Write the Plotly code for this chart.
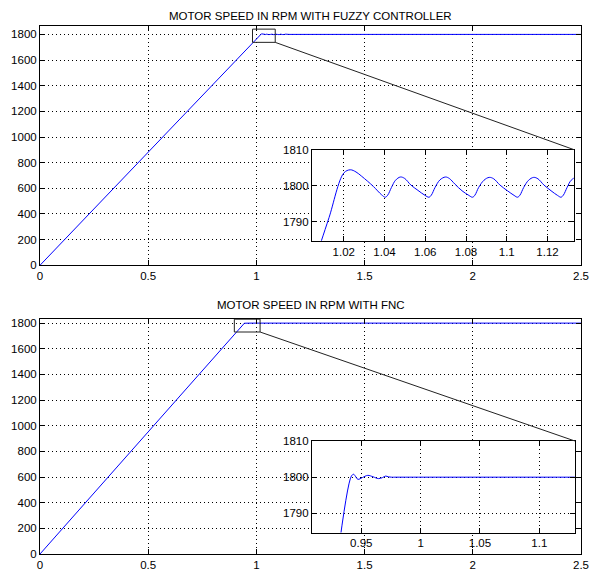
import plotly.graph_objects as go

# ---- motor speed responses (time in s, speed in rpm) ----
fuzzy_t = [0.0, 1.0050, 1.0090, 1.0128, 1.0200, 1.0232, 1.0260, 1.0288,
           1.0345, 1.0385, 1.0404,
           1.0416, 1.0434, 1.0454, 1.0478, 1.0499, 1.0529, 1.0564, 1.0599, 1.0618,
           1.0630, 1.0648, 1.0672, 1.0699, 1.0718, 1.0746, 1.0780, 1.0814, 1.0832,
           1.0844, 1.0862, 1.0888, 1.0914, 1.0936, 1.0966, 1.1003, 1.1036, 1.1053,
           1.1065, 1.1083, 1.1107, 1.1132, 1.1153, 1.1182, 1.1217, 1.1249, 1.1266,
           1.1278, 1.1296, 1.1316, 1.1340, 1.1361, 1.1500, 2.5]
fuzzy_rpm = [0.0, 1778.0, 1784.7, 1791.2, 1803.5, 1804.4, 1803.8, 1802.6,
             1799.8, 1797.5, 1796.8,
             1797.4, 1799.5, 1801.5, 1802.4, 1802.0, 1800.2, 1798.7, 1797.3, 1796.8,
             1797.4, 1799.5, 1801.6, 1802.4, 1802.0, 1800.4, 1798.6, 1797.3, 1796.8,
             1797.4, 1799.5, 1801.5, 1802.3, 1801.9, 1800.2, 1798.6, 1797.3, 1796.8,
             1797.4, 1799.5, 1801.5, 1802.3, 1801.9, 1800.2, 1798.6, 1797.3, 1796.8,
             1797.4, 1799.5, 1801.5, 1802.3, 1801.9, 1800.0, 1800.0]

fnc_t = [0.0, 0.9300, 0.9417, 0.9436, 0.9450, 0.9472, 0.9510, 0.9555, 0.9600,
         0.9645, 0.9680, 0.9705, 0.9730, 0.9755, 0.9800, 1.2000, 2.5]
fnc_rpm = [0.0, 1777.5, 1800.3, 1800.8, 1800.3, 1799.4, 1799.9, 1800.5, 1800.1,
           1799.6, 1799.9, 1800.3, 1800.1, 1800.0, 1800.0, 1800.0, 1800.0]

titles = ["MOTOR SPEED IN RPM WITH FUZZY CONTROLLER",
          "MOTOR SPEED IN RPM WITH FNC"]

main_xticks = [0, 0.5, 1, 1.5, 2, 2.5]
main_xlabels = ["0", "0.5", "1", "1.5", "2", "2.5"]
main_yticks = [0, 200, 400, 600, 800, 1000, 1200, 1400, 1600, 1800]
inset_yticks = [1790, 1800, 1810]
fuzzy_zoom_xticks = [1.02, 1.04, 1.06, 1.08, 1.1, 1.12]
fuzzy_zoom_xlabels = ["1.02", "1.04", "1.06", "1.08", "1.1", "1.12"]
fnc_zoom_xticks = [0.95, 1, 1.05, 1.1]
fnc_zoom_xlabels = ["0.95", "1", "1.05", "1.1"]

# ---- page geometry (pixels) ----
W, H = 596, 578
ML, MR, MT, MB = 40, 7, 26, 18
PW, PH = W - ML - MR, H - MT - MB
FONT = "Liberation Sans, Arial, sans-serif"
BLUE = "#0000ff"


def clamp(v):
    return min(1.0, max(0.0, v))


def xdom(left, right):
    return [clamp((left - ML) / PW), clamp((right - ML) / PW)]


def ydom(top, bottom):
    return [clamp((H - MB - bottom) / PH), clamp((H - MB - top) / PH)]


boxes = {
    "main1": dict(x=xdom(40, 589), y=ydom(26, 268), xr=[0, 2.5], yr=[0, 1865.5]),
    "main2": dict(x=xdom(40, 589), y=ydom(322, 560), xr=[0, 2.5], yr=[0, 1834.7]),
    "zoom1": dict(x=xdom(316, 581.7), y=ydom(151, 243.3), xr=[1.0044, 1.1329], yr=[1784.7, 1810]),
    "zoom2": dict(x=xdom(316, 582.7), y=ydom(445.7, 538.3), xr=[0.9085, 1.1299], yr=[1784.7, 1810]),
}


def to_paper(box, x, y):
    b = boxes[box]
    px = b["x"][0] + (x - b["xr"][0]) / (b["xr"][1] - b["xr"][0]) * (b["x"][1] - b["x"][0])
    py = b["y"][0] + (y - b["yr"][0]) / (b["yr"][1] - b["yr"][0]) * (b["y"][1] - b["y"][0])
    return px, py


def axis_style(**kw):
    d = dict(showline=True, linecolor="black", linewidth=1, mirror="allticks",
             ticks="inside", ticklen=5, tickcolor="black", tickwidth=1,
             showgrid=True, gridcolor="black", griddash="1px,3px", gridwidth=1,
             zeroline=False, fixedrange=True,
             tickfont=dict(family=FONT, size=11.5, color="black"))
    d.update(kw)
    return d


fig = go.Figure()
fig.add_trace(go.Scatter(x=fuzzy_t, y=fuzzy_rpm, mode="lines",
                         line=dict(color=BLUE, width=1), xaxis="x", yaxis="y"))
fig.add_trace(go.Scatter(x=fnc_t, y=fnc_rpm, mode="lines",
                         line=dict(color=BLUE, width=1), xaxis="x2", yaxis="y2"))
fig.add_trace(go.Scatter(x=fuzzy_t[1:], y=fuzzy_rpm[1:], mode="lines",
                         line=dict(color=BLUE, width=1, shape="spline"),
                         xaxis="x3", yaxis="y3"))
fig.add_trace(go.Scatter(x=fnc_t[1:], y=fnc_rpm[1:], mode="lines",
                         line=dict(color=BLUE, width=1, shape="spline"),
                         xaxis="x4", yaxis="y4"))

b = boxes
fig.update_layout(
    width=W, height=H, showlegend=False,
    margin=dict(l=ML, r=MR, t=MT, b=MB),
    paper_bgcolor="white", plot_bgcolor="white",
    font=dict(family=FONT, size=11.5, color="black"),
    xaxis=axis_style(domain=b["main1"]["x"], range=b["main1"]["xr"], anchor="y",
                     tickvals=main_xticks, ticktext=main_xlabels),
    yaxis=axis_style(domain=b["main1"]["y"], range=b["main1"]["yr"], anchor="x",
                     tickvals=main_yticks),
    xaxis2=axis_style(domain=b["main2"]["x"], range=b["main2"]["xr"], anchor="y2",
                      tickvals=main_xticks, ticktext=main_xlabels),
    yaxis2=axis_style(domain=b["main2"]["y"], range=b["main2"]["yr"], anchor="x2",
                      tickvals=main_yticks),
    xaxis3=axis_style(domain=b["zoom1"]["x"], range=b["zoom1"]["xr"], anchor="y3",
                      tickvals=fuzzy_zoom_xticks, ticktext=fuzzy_zoom_xlabels),
    yaxis3=axis_style(domain=b["zoom1"]["y"], range=b["zoom1"]["yr"], anchor="x3",
                      tickvals=inset_yticks),
    xaxis4=axis_style(domain=b["zoom2"]["x"], range=b["zoom2"]["xr"], anchor="y4",
                      tickvals=fnc_zoom_xticks, ticktext=fnc_zoom_xlabels),
    yaxis4=axis_style(domain=b["zoom2"]["y"], range=b["zoom2"]["yr"], anchor="x4",
                      tickvals=inset_yticks),
)

# white backing for the zoom panels so the main grid does not show through
for ax in ("3", "4"):
    fig.add_shape(type="rect", xref=f"x{ax} domain", yref=f"y{ax} domain",
                  x0=0, x1=1, y0=0, y1=1, layer="below",
                  fillcolor="white", line=dict(width=0))

# zoom rectangles on the main plots and connectors to the insets
zoom_marks = [
    ("main1", "x", "y", "zoom1", 0.982, 1.087, 1738, 1841),
    ("main2", "x2", "y2", "zoom2", 0.898, 1.017, 1730.7, 1830.8),
]
for box, xr, yr, inset, x0, x1, y0, y1 in zoom_marks:
    fig.add_shape(type="rect", xref=xr, yref=yr, x0=x0, x1=x1, y0=y0, y1=y1,
                  line=dict(color="#222222", width=1), layer="above")
    sx, sy = to_paper(box, x1, y0)
    ex, ey = boxes[inset]["x"][1], boxes[inset]["y"][1]
    fig.add_shape(type="line", xref="paper", yref="paper",
                  x0=sx, y0=sy, x1=ex, y1=ey,
                  line=dict(color="#222222", width=1), layer="above")

# panel titles
for text, ypix in zip(titles, (16, 308)):
    fig.add_annotation(text=text, xref="paper", yref="paper",
                       x=0.5, y=(H - MB - ypix) / PH, xanchor="center",
                       yanchor="middle", showarrow=False,
                       font=dict(family=FONT, size=11.5, color="black"))

fig.write_html("out.html")
